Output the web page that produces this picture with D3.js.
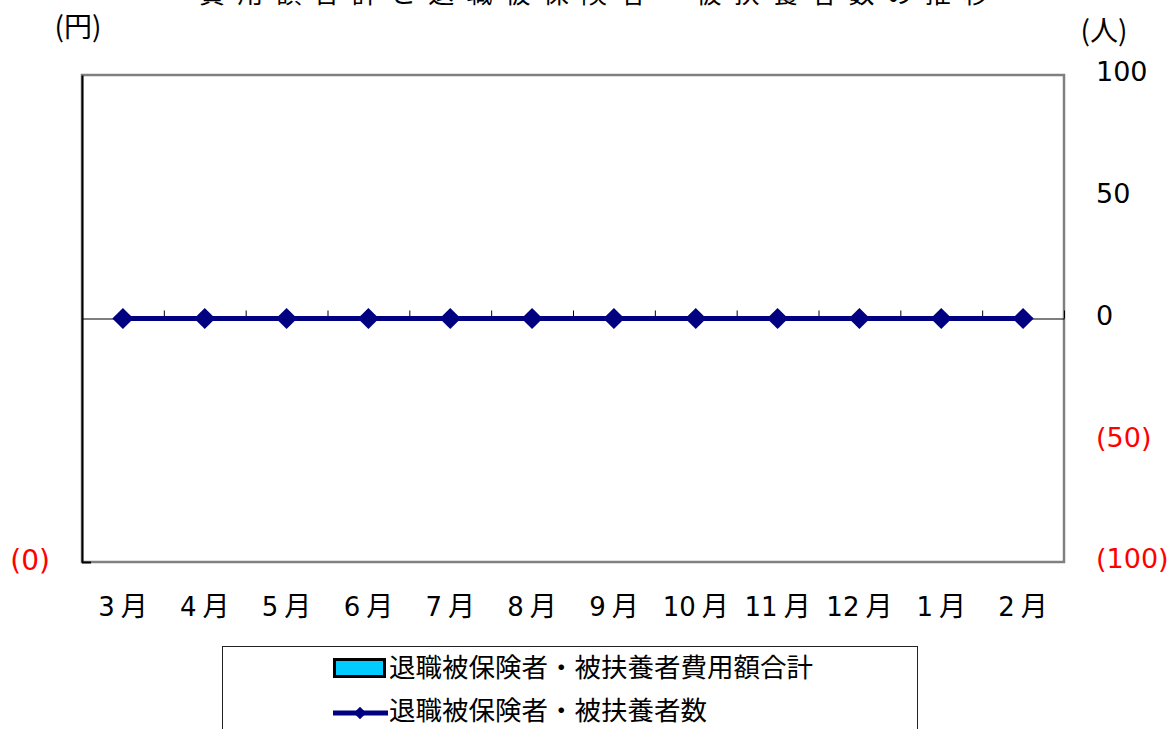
<!DOCTYPE html>
<html>
<head>
<meta charset="utf-8">
<script src="https://cdn.jsdelivr.net/npm/d3@7"></script>
<style>
  html, body { margin: 0; padding: 0; background: #ffffff; }
  svg { display: block; }
  text { font-family: "DejaVu Sans", "Noto Sans CJK JP", sans-serif; }
  .cjk { font-family: "Noto Sans CJK JP", sans-serif; }
</style>
</head>
<body>
<svg id="chart" width="1173" height="729"></svg>
<script>
// ---- data ----
const titleText = "費用額合計と退職被保険者・被扶養者数の推移";
const months = ["3", "4", "5", "6", "7", "8", "9", "10", "11", "12", "1", "2"];
const monthSuffix = "月";
const costTotals = [0, 0, 0, 0, 0, 0, 0, 0, 0, 0, 0, 0];      // 退職被保険者・被扶養者費用額合計 (円)
const personCounts = [0, 0, 0, 0, 0, 0, 0, 0, 0, 0, 0, 0];    // 退職被保険者・被扶養者数 (人)
const leftTicks = [0];
const rightTicks = [100, 50, 0, -50, -100];
const seriesNames = ["退職被保険者・被扶養者費用額合計", "退職被保険者・被扶養者数"];
const leftUnit = "(円)";
const rightUnit = "(人)";

// ---- layout ----
const svg = d3.select("#chart");
const plot = { left: 82, right: 1064, top: 75, bottom: 562 };
const navy = "#000080";
const red = "#ff0000";

const x = d3.scaleBand().domain(months.map((m, i) => i)).range([plot.left, plot.right])
  .paddingInner(0.3).paddingOuter(0.15);
const xEdges = d3.scaleLinear().domain([0, months.length]).range([plot.left, plot.right]);
const yL = d3.scaleLinear().domain([0, 1]).range([plot.bottom, plot.top]);
const yR = d3.scaleLinear().domain([-100, 100]).range([plot.bottom, plot.top]);

// title (partly cut off at top)
svg.append("text")
  .attr("class", "cjk")
  .attr("x", 199).attr("y", 3)
  .attr("font-size", 26)
  .attr("letter-spacing", 12.2)
  .attr("fill", "#000")
  .text(titleText);

// unit labels
svg.append("text").attr("class", "cjk").attr("x", 78).attr("y", 37).attr("text-anchor", "middle")
  .attr("font-size", 28).attr("fill", "#000").text(leftUnit);
svg.append("text").attr("class", "cjk").attr("x", 1104).attr("y", 41).attr("text-anchor", "middle")
  .attr("font-size", 28).attr("fill", "#000").text(rightUnit);

// plot area
svg.append("rect")
  .attr("x", plot.left).attr("y", plot.top)
  .attr("width", plot.right - plot.left).attr("height", plot.bottom - plot.top)
  .attr("fill", "#fff").attr("stroke", "#808080").attr("stroke-width", 2.5);

// bars (all zero)
svg.append("g").selectAll("rect").data(costTotals).join("rect")
  .attr("x", (d, i) => x(i)).attr("width", x.bandwidth())
  .attr("y", d => yL(d)).attr("height", d => yL(0) - yL(d))
  .attr("fill", "#00ccff").attr("stroke", d => d > 0 ? "#000" : "none");

// left axis
const gL = svg.append("g").attr("transform", `translate(${plot.left},0)`)
  .call(d3.axisLeft(yL).tickValues(leftTicks).tickSizeInner(-9).tickSizeOuter(0)
    .tickFormat(d => d < 0 ? `${-d}` : `(${d})`));
gL.select(".domain").attr("stroke", "#000").attr("stroke-width", 2);
gL.selectAll(".tick line").attr("stroke", "#000").attr("stroke-width", 2);
gL.selectAll(".tick text").attr("font-size", 28).attr("fill", red)
  .attr("dy", "0.26em").attr("x", -32);

// right axis
const gR = svg.append("g").attr("transform", `translate(${plot.right},0)`)
  .call(d3.axisRight(yR).tickValues(rightTicks).tickSize(0).tickPadding(32)
    .tickFormat(d => d < 0 ? `(${-d})` : `${d}`));
gR.select(".domain").remove();
gR.selectAll(".tick text").attr("font-size", 27)
  .attr("dy", "0.22em")
  .attr("fill", d => d < 0 ? red : "#000");

// category axis crossing at zero of right axis
const gX = svg.append("g").attr("transform", `translate(0,${yR(0)})`)
  .call(d3.axisTop(xEdges).tickValues(d3.range(months.length + 1)).tickSizeInner(8)
    .tickSizeOuter(0).tickFormat(""));
gX.select(".domain").attr("stroke", "#000").attr("stroke-width", 1.2);
gX.selectAll(".tick line").attr("stroke", "#000").attr("stroke-width", 1);

// month labels
const cx = i => x(i) + x.bandwidth() / 2;
const labels = svg.append("g").selectAll("text").data(months).join("text")
  .attr("x", (d, i) => cx(i)).attr("y", 616)
  .attr("text-anchor", "middle").attr("font-size", 26).attr("fill", "#000");
labels.append("tspan").text(d => d);
labels.append("tspan").attr("dx", 6).attr("class", "cjk").attr("font-size", 27).text(monthSuffix);

// line series
const line = d3.line().x((d, i) => cx(i)).y(d => yR(d));
svg.append("path").datum(personCounts)
  .attr("d", line).attr("fill", "none").attr("stroke", navy).attr("stroke-width", 5);
svg.append("g").selectAll("path").data(personCounts).join("path")
  .attr("d", d3.symbol(d3.symbolSquare, 225)())
  .attr("transform", (d, i) => `translate(${cx(i)},${yR(d)}) rotate(45)`)
  .attr("fill", navy);

// legend
const lg = svg.append("g");
lg.append("rect").attr("x", 222.5).attr("y", 646.5).attr("width", 695).attr("height", 120)
  .attr("fill", "#fff").attr("stroke", "#222").attr("stroke-width", 1);
lg.append("rect").attr("x", 334.5).attr("y", 659.5).attr("width", 50).attr("height", 17)
  .attr("fill", "#00ccff").attr("stroke", "#000").attr("stroke-width", 3);
lg.append("line").attr("x1", 333).attr("x2", 388).attr("y1", 713).attr("y2", 713)
  .attr("stroke", navy).attr("stroke-width", 5);
lg.append("path").attr("d", d3.symbol(d3.symbolSquare, 80)())
  .attr("transform", "translate(360,713) rotate(45)").attr("fill", navy);
lg.selectAll("text.leg").data(seriesNames).join("text")
  .attr("class", "leg cjk")
  .attr("x", 389).attr("y", (d, i) => [667, 710][i])
  .attr("dy", "0.36em")
  .attr("font-size", 26.5).attr("fill", "#000").text(d => d);
</script>
</body>
</html>
